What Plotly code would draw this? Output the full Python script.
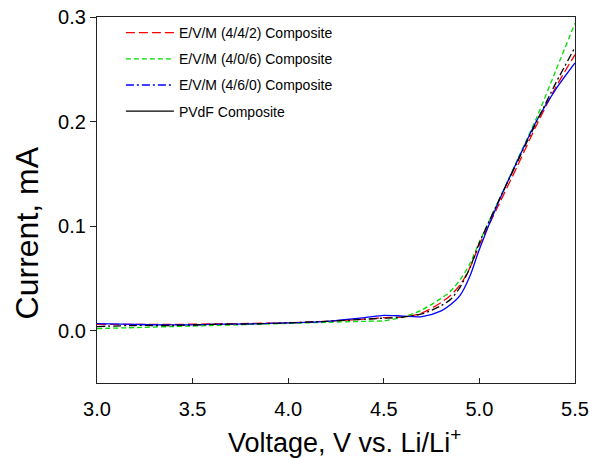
import plotly.graph_objects as go

voltage = [3.0, 3.2, 3.4, 3.6, 3.8, 4.0, 4.2, 4.4, 4.5, 4.6, 4.7, 4.8, 4.85, 4.9, 4.95, 5.0, 5.1, 5.2, 5.3, 5.4, 5.5]
evm_442 = [0.006, 0.006, 0.006, 0.0065, 0.007, 0.0075, 0.009, 0.011, 0.0125, 0.013, 0.017, 0.027, 0.034, 0.044, 0.060, 0.082, 0.120, 0.158, 0.197, 0.233, 0.264]
evm_406 = [0.002, 0.003, 0.004, 0.005, 0.006, 0.007, 0.008, 0.009, 0.0095, 0.013, 0.020, 0.031, 0.038, 0.049, 0.064, 0.085, 0.124, 0.164, 0.204, 0.249, 0.294]
evm_460 = [0.0068, 0.006, 0.0055, 0.006, 0.0065, 0.0075, 0.009, 0.0125, 0.0147, 0.014, 0.0135, 0.019, 0.025, 0.034, 0.052, 0.078, 0.123, 0.163, 0.201, 0.231, 0.256]
pvdf = [0.004, 0.005, 0.005, 0.006, 0.0065, 0.0075, 0.009, 0.011, 0.012, 0.013, 0.016, 0.024, 0.030, 0.042, 0.060, 0.084, 0.124, 0.162, 0.200, 0.237, 0.271]

x_ticks = [3.0, 3.5, 4.0, 4.5, 5.0, 5.5]
x_tick_labels = ["3.0", "3.5", "4.0", "4.5", "5.0", "5.5"]
y_ticks = [0.0, 0.1, 0.2, 0.3]
y_tick_labels = ["0.0", "0.1", "0.2", "0.3"]

names = ["E/V/M (4/4/2) Composite", "E/V/M (4/0/6) Composite", "E/V/M (4/6/0) Composite", "PVdF Composite"]
colors = ["#ff0000", "#00dd00", "#0000ff", "#000000"]
plot_dash = ["9px,4px", "5px,3px", "solid", "8px,3px,2px,3px"]
legend_dash = ["9px,4px", "5px,3px", "8px,3px,2px,3px", "solid"]
series = [evm_442, evm_406, evm_460, pvdf]

fig = go.Figure()
for name, col, d, ys in zip(names, colors, plot_dash, series):
    fig.add_trace(go.Scatter(x=voltage, y=ys, mode="lines", showlegend=False, name=name,
                             line=dict(color=col, width=1.3, dash=d, shape="spline", smoothing=0.8)))
for i, (name, col, d) in enumerate(zip(names, colors, legend_dash)):
    fig.add_trace(go.Scatter(x=[None], y=[None], mode="lines", name=name, legendgroup=f"g{i}",
                             line=dict(color=col, width=1.3, dash=d)))

fig.update_layout(
    width=589, height=458,
    margin=dict(l=97, r=14, t=17, b=75, autoexpand=False),
    paper_bgcolor="white", plot_bgcolor="white",
    font=dict(family="Liberation Sans, Arial, sans-serif", color="black"),
    legend=dict(x=0.05, y=1.0, xanchor="left", yanchor="top", bgcolor="rgba(0,0,0,0)",
                font=dict(size=14), tracegroupgap=5, itemwidth=48),
    xaxis=dict(range=[3.0, 5.5], tickvals=x_ticks, ticktext=x_tick_labels,
               ticks="inside", ticklen=5, tickcolor="#222", tickwidth=1,
               showline=True, linecolor="#222", linewidth=1.3, mirror=True, automargin=False,
               showgrid=False, zeroline=False, tickfont=dict(size=20), ticklabelstandoff=8),
    yaxis=dict(range=[-0.05, 0.3], tickvals=y_ticks, ticktext=y_tick_labels,
               ticks="outside", ticklen=6, tickcolor="#222", tickwidth=1,
               showline=True, linecolor="#222", linewidth=1.3, mirror=True, automargin=False,
               showgrid=False, zeroline=False, tickfont=dict(size=20)),
    annotations=[
        dict(text="Voltage, V vs. Li/Li<sup>+</sup>", xref="paper", yref="paper",
             x=0.517, y=-0.159, xanchor="center", yanchor="middle", showarrow=False,
             font=dict(size=27)),
        dict(text="Current, mA", xref="paper", yref="paper", textangle=-90,
             x=-0.1475, y=0.41, xanchor="center", yanchor="middle", showarrow=False,
             font=dict(size=32)),
    ],
)

fig.write_html("out.html", config={"displayModeBar": False},
               post_script="document.body.style.margin='0';document.body.style.overflow='hidden';")
